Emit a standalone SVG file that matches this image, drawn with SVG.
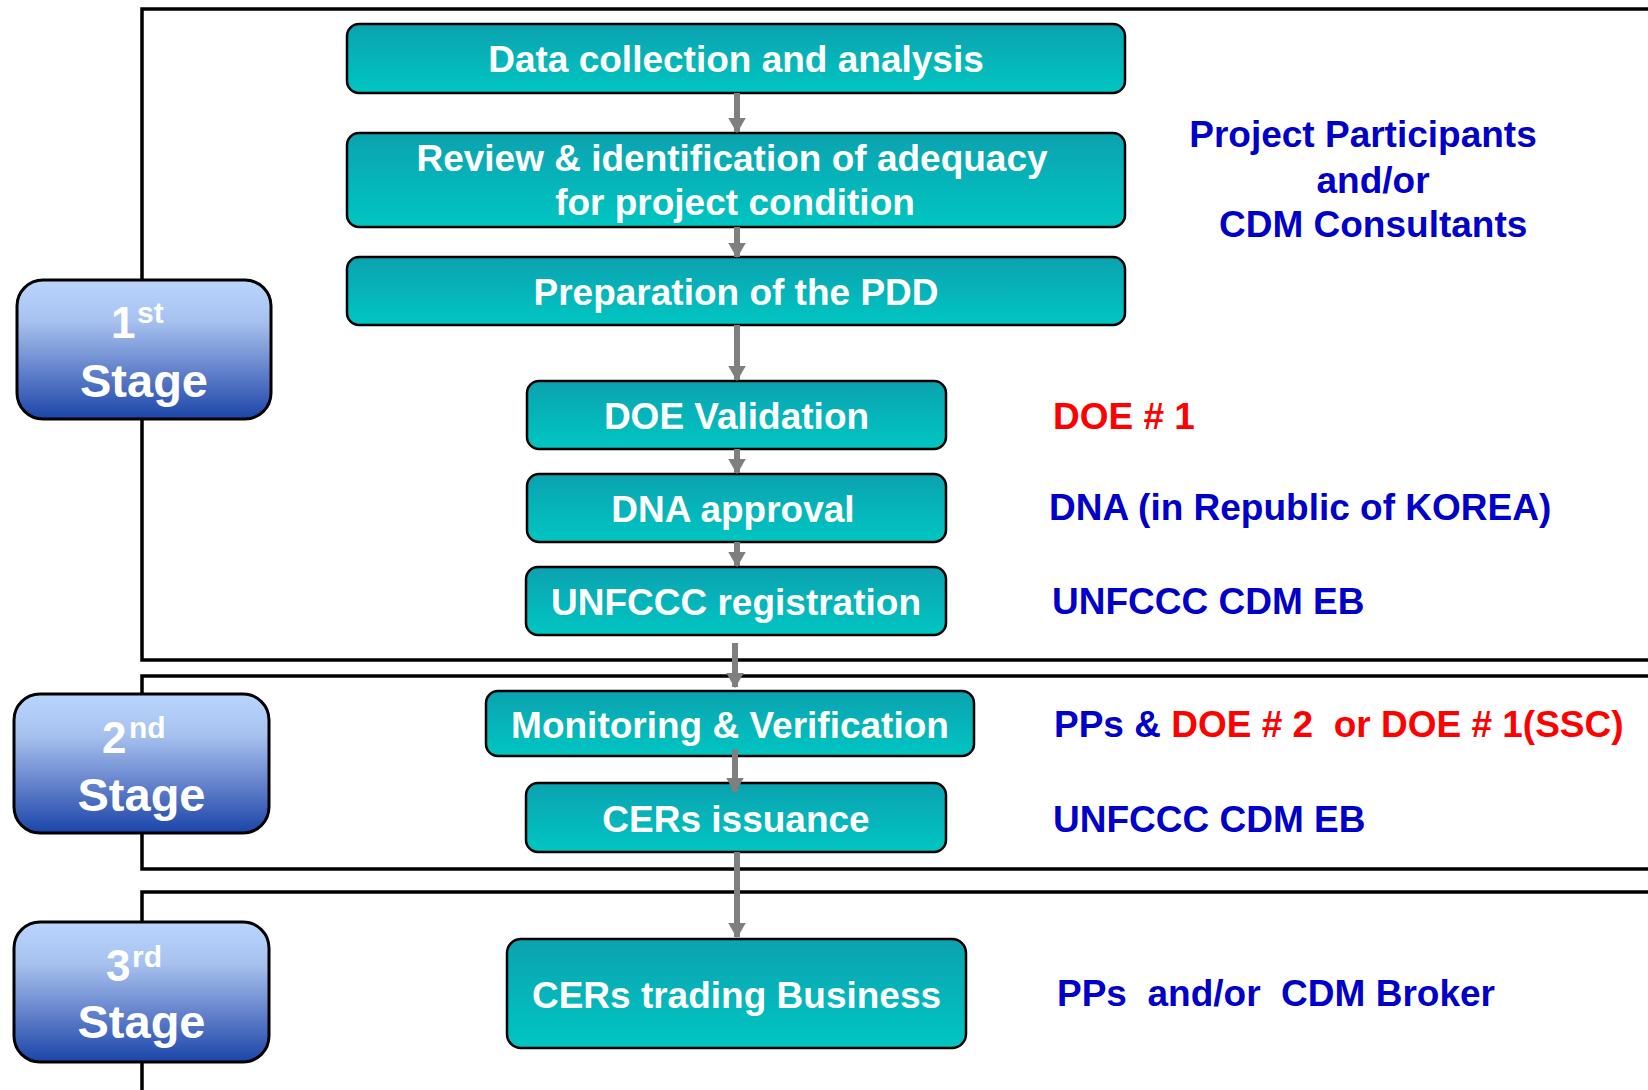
<svg xmlns="http://www.w3.org/2000/svg" width="1648" height="1090" viewBox="0 0 1648 1090">
<defs>
<linearGradient id="gNode" x1="0" y1="0" x2="0" y2="1">
<stop offset="0" stop-color="#0BA2AF"/>
<stop offset="1" stop-color="#00C6C2"/>
</linearGradient>
<linearGradient id="gStage" x1="0" y1="0" x2="0" y2="1">
<stop offset="0" stop-color="#BAD6FD"/>
<stop offset="0.3" stop-color="#A6C1EE"/>
<stop offset="0.65" stop-color="#6482CC"/>
<stop offset="1" stop-color="#1A45A8"/>
</linearGradient>
<marker id="ah" markerWidth="3" markerHeight="3" refX="2.4" refY="1.5" orient="auto" markerUnits="strokeWidth">
<path d="M0,0 L2.6,1.5 L0,3 Z" fill="#7F7F7F"/>
</marker>
<style>
.frame{fill:none;stroke:#000;stroke-width:3.5}
.stage{fill:url(#gStage);stroke:#000;stroke-width:3}
.node{fill:url(#gNode);stroke:#000;stroke-width:2.5}
.nt{font-family:"Liberation Sans",Arial,sans-serif;font-weight:bold;font-size:37px;fill:#fff;text-anchor:middle}
.st{font-family:"Liberation Sans",Arial,sans-serif;font-weight:bold;fill:#fff}
.rt{font-family:"Liberation Sans",Arial,sans-serif;font-weight:bold;font-size:37px}
.blue{fill:#0000C8}
.red{fill:#FF0000}
.conn{stroke:#7F7F7F;stroke-width:6;fill:none;marker-end:url(#ah)}
</style>
</defs>
<rect width="1648" height="1090" fill="#fff"/>
<g id="frames">
<path class="frame" d="M1660,9 H142 V660 H1660"/>
<path class="frame" d="M1660,676 H142 V869 H1660"/>
<path class="frame" d="M1660,892 H142 V1095"/>
</g>
<g id="stage1">
<rect class="stage" x="17" y="280" width="254" height="139" rx="26"/>
<text class="st"><tspan x="111" y="338" font-size="44">1</tspan><tspan x="137" y="323" font-size="30">st</tspan></text>
<text class="st" x="144" y="397" font-size="47" text-anchor="middle">Stage</text>
</g>
<g id="stage2">
<rect class="stage" x="14" y="694" width="255" height="139" rx="26"/>
<text class="st"><tspan x="102" y="753" font-size="44">2</tspan><tspan x="129" y="738" font-size="30">nd</tspan></text>
<text class="st" x="141.5" y="811" font-size="47" text-anchor="middle">Stage</text>
</g>
<g id="stage3">
<rect class="stage" x="14" y="922" width="255" height="140" rx="26"/>
<text class="st"><tspan x="106" y="981" font-size="44">3</tspan><tspan x="132" y="967" font-size="30">rd</tspan></text>
<text class="st" x="141.5" y="1038" font-size="47" text-anchor="middle">Stage</text>
</g>
<g id="n-data">
<rect class="node" x="347" y="24" width="778" height="69" rx="12"/>
<text class="nt" x="736" y="72">Data collection and analysis</text>
</g>
<g id="n-review">
<rect class="node" x="347" y="133" width="778" height="94" rx="12"/>
<text class="nt" x="732" y="171">Review &amp; identification of adequacy</text>
<text class="nt" x="735" y="215">for project condition</text>
</g>
<g id="n-pdd">
<rect class="node" x="347" y="257" width="778" height="68" rx="12"/>
<text class="nt" x="736" y="305">Preparation of the PDD</text>
</g>
<g id="n-doe">
<rect class="node" x="527" y="381" width="419" height="68" rx="12"/>
<text class="nt" x="736.5" y="429">DOE Validation</text>
</g>
<g id="n-dna">
<rect class="node" x="527" y="474" width="419" height="68" rx="12"/>
<text class="nt" x="733" y="522">DNA approval</text>
</g>
<g id="n-reg">
<rect class="node" x="526" y="567" width="420" height="68" rx="12"/>
<text class="nt" x="736" y="615">UNFCCC registration</text>
</g>
<g id="n-mon">
<rect class="node" x="486" y="691" width="488" height="65" rx="12"/>
<text class="nt" x="730" y="738">Monitoring &amp; Verification</text>
</g>
<g id="n-iss">
<rect class="node" x="526" y="783" width="420" height="69" rx="12"/>
<text class="nt" x="736" y="832">CERs issuance</text>
</g>
<g id="n-trade">
<rect class="node" x="507" y="939" width="459" height="109" rx="14"/>
<text class="nt" x="736.5" y="1008">CERs trading Business</text>
</g>
<g id="connectors">
<line class="conn" x1="737" y1="93" x2="737" y2="132"/>
<line class="conn" x1="737" y1="227" x2="737" y2="257"/>
<line class="conn" x1="737" y1="325" x2="737" y2="380"/>
<line class="conn" x1="737" y1="449" x2="737" y2="473"/>
<line class="conn" x1="737" y1="542" x2="737" y2="566"/>
<line class="conn" x1="735" y1="643" x2="735" y2="687"/>
<line class="conn" x1="735" y1="749" x2="735" y2="792"/>
<line class="conn" x1="737" y1="852" x2="737" y2="937"/>
</g>
<g id="labels">
<text class="rt blue" x="1363" y="147" text-anchor="middle">Project Participants</text>
<text class="rt blue" x="1373" y="193" text-anchor="middle">and/or</text>
<text class="rt blue" x="1219" y="237">CDM Consultants</text>
<text class="rt red" x="1053" y="429">DOE # 1</text>
<text class="rt blue" x="1049" y="520">DNA (in Republic of KOREA)</text>
<text class="rt blue" x="1052" y="614">UNFCCC CDM EB</text>
<text class="rt" x="1054" y="737" xml:space="preserve"><tspan class="blue">PPs &amp; </tspan><tspan class="red">DOE # 2  or DOE # 1(SSC)</tspan></text>
<text class="rt blue" x="1053" y="832">UNFCCC CDM EB</text>
<text class="rt blue" x="1057" y="1006" xml:space="preserve">PPs  and/or  CDM Broker</text>
</g>
</svg>
